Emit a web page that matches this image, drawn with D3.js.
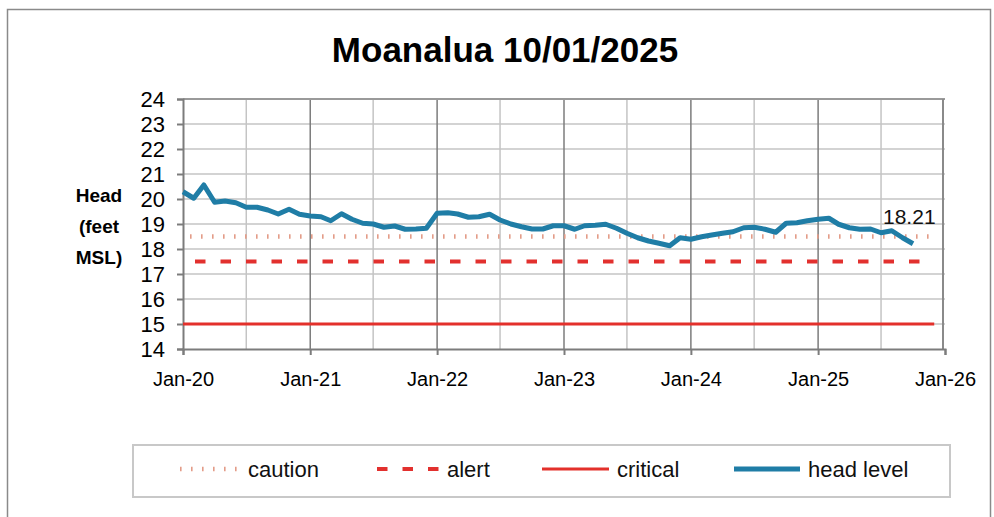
<!DOCTYPE html>
<html>
<head>
<meta charset="utf-8">
<script src="https://cdn.jsdelivr.net/npm/d3@7"></script>
<style>
  body { margin: 0; background: #fff; }
  svg { display: block; font-family: "Liberation Sans", Arial, sans-serif; }
</style>
</head>
<body>
<svg id="chart" width="994" height="517"></svg>
<script>
// monthly head level readings, Jan 2020 .. Oct 2025
const firstYear = 2020;
const headLevel = [
  20.29, 20.03, 20.56, 19.87, 19.92, 19.85, 19.67, 19.67, 19.56, 19.40, 19.59, 19.39,
  19.32, 19.29, 19.13, 19.41, 19.19, 19.03, 19.00, 18.87, 18.92, 18.79, 18.80, 18.83,
  19.43, 19.45, 19.40, 19.27, 19.29, 19.39, 19.16, 19.00, 18.89, 18.80, 18.80, 18.93,
  18.93, 18.79, 18.93, 18.95, 18.99, 18.83, 18.63, 18.45, 18.32, 18.23, 18.13, 18.45,
  18.39, 18.49, 18.56, 18.63, 18.69, 18.85, 18.87, 18.79, 18.67, 19.03, 19.05, 19.13,
  19.19, 19.23, 18.99, 18.85, 18.79, 18.80, 18.65, 18.73, 18.45, 18.21
];
const thresholds = ["caution", "alert", "critical"];
const thresholdValues = [18.5, 17.5, 15];
const thresholdSpan = [new Date(2020, 0, 1), new Date(2025, 11, 1)];
const yTicks = [14, 15, 16, 17, 18, 19, 20, 21, 22, 23, 24];
const legendLabels = ["caution", "alert", "critical", "head level"];
const lastLabel = "18.21";

const svg = d3.select("#chart");
const plotLeft = 183, plotRight = 945, plotTop = 99, plotBottom = 349;

const x = d3.scaleTime()
  .domain([new Date(2020, 0, 1), new Date(2026, 0, 1)])
  .range([plotLeft, plotRight]);
const y = d3.scaleLinear().domain([14, 24]).range([plotBottom, plotTop]);

const headData = headLevel.map(function (v, i) {
  return { date: new Date(firstYear, i, 1), value: v };
});

// outer frame
svg.append("rect")
  .attr("x", 7.5).attr("y", 9.5).attr("width", 983).attr("height", 520)
  .attr("fill", "none").attr("stroke", "#8a8a8a").attr("stroke-width", 1.5);

svg.append("text")
  .attr("x", 505).attr("y", 62)
  .attr("text-anchor", "middle")
  .attr("font-size", 35).attr("font-weight", "bold")
  .text("Moanalua 10/01/2025");

// grid
const g = svg.append("g");
g.selectAll(".hgrid")
  .data(yTicks.slice(1))
  .enter().append("line")
  .attr("x1", plotLeft).attr("x2", plotRight)
  .attr("y1", d => y(d)).attr("y2", d => y(d))
  .attr("stroke", "#c4c4c4").attr("stroke-width", 1.5);

const halfYears = d3.timeMonth.every(6).range(new Date(2020, 6, 1), new Date(2026, 0, 1));
g.selectAll(".vgrid")
  .data(halfYears)
  .enter().append("line")
  .attr("x1", d => x(d)).attr("x2", d => x(d))
  .attr("y1", plotTop).attr("y2", plotBottom)
  .attr("stroke", d => d.getMonth() === 0 ? "#7c7c7c" : "#c4c4c4")
  .attr("stroke-width", 1.5);

g.append("line")
  .attr("x1", plotLeft).attr("x2", plotRight).attr("y1", plotTop).attr("y2", plotTop)
  .attr("stroke", "#9a9a9a").attr("stroke-width", 2);
g.append("line")
  .attr("x1", plotRight - 2).attr("x2", plotRight - 2).attr("y1", plotTop).attr("y2", plotBottom)
  .attr("stroke", "#8a8a8a").attr("stroke-width", 2);

// axes
const yAxis = svg.append("g")
  .attr("transform", "translate(" + plotLeft + ",0)")
  .call(d3.axisLeft(y).tickValues(yTicks).tickSize(6).tickPadding(12).tickFormat(d3.format("d")));
const xAxis = svg.append("g")
  .attr("transform", "translate(0," + plotBottom + ")")
  .call(d3.axisBottom(x).ticks(d3.timeYear.every(1)).tickSize(6).tickPadding(17)
    .tickFormat(d3.timeFormat("%b-%y")));
[yAxis, xAxis].forEach(function (a) {
  a.select(".domain").attr("stroke", "#7c7c7c").attr("stroke-width", 2);
  a.selectAll(".tick line").attr("stroke", "#7c7c7c").attr("stroke-width", 2);
  a.selectAll("text").attr("fill", "#000").attr("font-family", "Liberation Sans, Arial, sans-serif");
});
yAxis.selectAll("text").attr("font-size", 22);
xAxis.selectAll("text").attr("font-size", 20);

// y title
const yTitle = svg.append("text")
  .attr("text-anchor", "middle").attr("font-weight", "bold").attr("font-size", 19);
["Head", "(feet", "MSL)"].forEach(function (t, i) {
  yTitle.append("tspan").attr("x", 99).attr("y", 202 + i * 31).text(t);
});

// threshold lines
const styles = {
  caution: { color: "#e39c88", width: 4.5, dash: "1.6,9.4", offset: 4 },
  alert: { color: "#e2302e", width: 4, dash: "10.5,15", offset: 13.5 },
  critical: { color: "#e3302b", width: 3, dash: null, offset: 0 },
  head: { color: "#1f7da6", width: 5, dash: null, offset: 0 }
};
thresholds.forEach(function (name, i) {
  const s = styles[name];
  svg.append("line")
    .attr("x1", x(thresholdSpan[0])).attr("x2", x(thresholdSpan[1]))
    .attr("y1", y(thresholdValues[i])).attr("y2", y(thresholdValues[i]))
    .attr("stroke", s.color).attr("stroke-width", s.width)
    .attr("stroke-dasharray", s.dash).attr("stroke-dashoffset", s.offset);
});

// head level
svg.append("path")
  .datum(headData)
  .attr("fill", "none")
  .attr("stroke", styles.head.color)
  .attr("stroke-width", styles.head.width)
  .attr("stroke-linejoin", "round")
  .attr("d", d3.line().x(d => x(d.date)).y(d => y(d.value)));

const last = headData[headData.length - 1];
svg.append("text")
  .attr("x", x(last.date) - 30).attr("y", y(last.value) - 20)
  .attr("font-size", 21).attr("fill", "#111")
  .text(lastLabel);

// legend
svg.append("rect")
  .attr("x", 133).attr("y", 445).attr("width", 817).attr("height", 52)
  .attr("fill", "#fff").attr("stroke", "#c8c8c8").attr("stroke-width", 2);
const legendX = [180, 377, 542, 734];
const legendKeys = ["caution", "alert", "critical", "head"];
const legendW = [60, 62, 67, 66];
legendLabels.forEach(function (lab, i) {
  const s = styles[legendKeys[i]];
  svg.append("line")
    .attr("x1", legendX[i]).attr("x2", legendX[i] + legendW[i])
    .attr("y1", 469).attr("y2", 469)
    .attr("stroke", s.color).attr("stroke-width", s.width)
    .attr("stroke-dasharray", s.dash);
  svg.append("text")
    .attr("x", legendX[i] + legendW[i] + 8).attr("y", 477)
    .attr("font-size", 22).attr("fill", "#111")
    .text(lab);
});
</script>
</body>
</html>
